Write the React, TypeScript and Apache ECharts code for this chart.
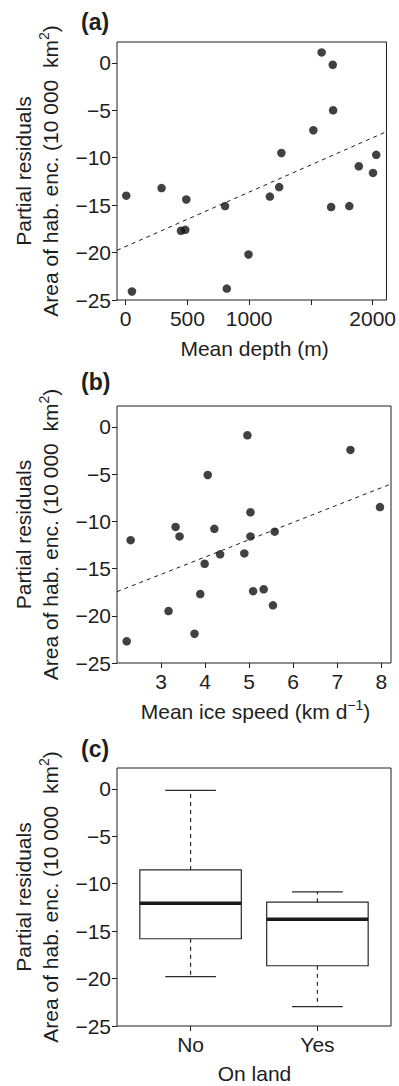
import React, { useEffect, useRef } from 'react';
import * as echarts from 'echarts';

// Panel (a): mean depth vs partial residuals
const depthX = [5, 51, 291, 448, 483, 491, 805, 819, 995, 1168, 1243, 1261, 1520, 1587, 1677, 1680, 1664, 1811, 1888, 2003, 2029];
const depthY = [-14.0, -24.1, -13.2, -17.7, -17.6, -14.4, -15.1, -23.8, -20.2, -14.1, -13.1, -9.5, -7.1, 1.1, -0.2, -5.0, -15.2, -15.1, -10.9, -11.6, -9.7];
const depthFitX = [-70, 2112];
const depthFitY = [-19.76, -7.25];

// Panel (b): mean ice speed vs partial residuals
const speedX = [2.22, 2.31, 3.17, 3.33, 3.42, 3.76, 3.89, 3.99, 4.06, 4.21, 4.34, 4.89, 4.96, 5.03, 5.03, 5.09, 5.33, 5.54, 5.58, 7.3, 7.97];
const speedY = [-22.7, -12.0, -19.5, -10.6, -11.6, -21.9, -17.7, -14.5, -5.1, -10.8, -13.5, -13.4, -0.9, -9.05, -11.6, -17.4, -17.2, -18.9, -11.1, -2.45, -8.5];
const speedFitX = [2.0, 8.22];
const speedFitY = [-17.45, -6.05];

// Panel (c): on land boxplot
const landCats = ['No', 'Yes'];
const boxLow = [-19.8, -22.95];
const boxQ1 = [-15.8, -18.65];
const boxMed = [-12.05, -13.75];
const boxQ3 = [-8.55, -11.95];
const boxHigh = [-0.15, -10.85];

const yTicks = [-25, -20, -15, -10, -5, 0];
const depthTicks = [0, 500, 1000, 1500, 2000];
const depthLabels = [0, 500, 1000, 2000];
const speedTicks = [3, 4, 5, 6, 7, 8];
const landTicks = [1, 2];

const FONT = 'Liberation Sans, Arial, sans-serif';
const INK = '#1e1e1e';
const FS = 21;

const grids = [
  { left: 117, top: 42, width: 273, height: 258 },
  { left: 117, top: 406, width: 274, height: 257 },
  { left: 117, top: 768, width: 274, height: 258 },
];

function yAxisFor(gi: number) {
  return {
    type: 'value',
    gridIndex: gi,
    min: -25,
    max: 2.2,
    splitLine: { show: false },
    axisLine: { show: false, onZero: false },
    axisTick: { show: true, length: 5, customValues: yTicks, lineStyle: { color: INK, width: 1 } },
    axisLabel: {
      customValues: yTicks,
      margin: 6,
      fontSize: FS,
      color: INK,
      fontFamily: FONT,
      formatter: (v: number) => String(v).replace('-', '\u2212'),
    },
  };
}

function xAxisFor(gi: number, min: number, max: number, ticks: number[], labels: number[], fmt?: (v: number) => string) {
  return {
    type: 'value',
    gridIndex: gi,
    position: 'bottom',
    min,
    max,
    splitLine: { show: false },
    axisLine: { show: false, onZero: false },
    axisTick: { show: true, length: 5, customValues: ticks, lineStyle: { color: INK, width: 1 } },
    axisLabel: {
      customValues: labels,
      margin: 8,
      fontSize: FS,
      color: INK,
      fontFamily: FONT,
      formatter: fmt || ((v: number) => String(v)),
    },
  };
}

export default function App() {
  const ref = useRef<HTMLDivElement>(null);

  useEffect(() => {
    if (!ref.current) return;
    const chart = echarts.init(ref.current, undefined, { renderer: 'svg' });

    const panelCenters = [171, 534.5, 897];
    const graphic: any[] = [];
    const labels = ['(a)', '(b)', '(c)'];
    const labelY = [22, 382, 749];
    labels.forEach((t, i) => {
      graphic.push({
        type: 'text',
        x: 81,
        y: labelY[i],
        style: { text: t, font: `bold 23px ${FONT}`, fill: INK, textAlign: 'left', textVerticalAlign: 'middle' },
      });
      graphic.push({
        type: 'text',
        x: 23.5,
        y: panelCenters[i],
        rotation: Math.PI / 2,
        style: { text: 'Partial residuals', font: `${FS}px ${FONT}`, fill: INK, textAlign: 'center', textVerticalAlign: 'middle' },
      });
      graphic.push({
        type: 'text',
        x: 48.5,
        y: panelCenters[i],
        rotation: Math.PI / 2,
        style: {
          text: '{n|Area of hab. enc. (10 000  km}{s|2}{n|)}',
          fill: INK,
          textAlign: 'center',
          textVerticalAlign: 'middle',
          rich: {
            n: { fontSize: FS, fontFamily: FONT, fill: INK, lineHeight: 24, verticalAlign: 'bottom' },
            s: { fontSize: 14, fontFamily: FONT, fill: INK, lineHeight: 24, verticalAlign: 'top' },
          },
        },
      });
    });
    const xTitleY = [348, 710, 1073];
    graphic.push({
      type: 'text',
      x: 254.5,
      y: xTitleY[0],
      style: { text: 'Mean depth (m)', font: `${FS}px ${FONT}`, fill: INK, textAlign: 'center', textVerticalAlign: 'middle' },
    });
    graphic.push({
      type: 'text',
      x: 255.5,
      y: xTitleY[1],
      style: {
        text: '{n|Mean ice speed (km d}{s|\u22121}{n|)}',
        fill: INK,
        textAlign: 'center',
        textVerticalAlign: 'middle',
        rich: {
          n: { fontSize: FS, fontFamily: FONT, fill: INK, lineHeight: 24, verticalAlign: 'bottom' },
          s: { fontSize: 14, fontFamily: FONT, fill: INK, lineHeight: 24, verticalAlign: 'top' },
        },
      },
    });
    graphic.push({
      type: 'text',
      x: 254.5,
      y: xTitleY[2],
      style: { text: 'On land', font: `${FS}px ${FONT}`, fill: INK, textAlign: 'center', textVerticalAlign: 'middle' },
    });

    const boxData = landCats.map((_, i) => [i + 1, boxLow[i], boxQ1[i], boxMed[i], boxQ3[i], boxHigh[i]]);

    chart.setOption({
      animation: false,
      backgroundColor: '#ffffff',
      grid: grids.map((g) => ({ ...g, show: true, borderColor: INK, borderWidth: 1, backgroundColor: 'transparent' })),
      xAxis: [
        xAxisFor(0, -70, 2112, depthTicks, depthLabels),
        xAxisFor(1, 2.0, 8.22, speedTicks, speedTicks),
        xAxisFor(2, 0.42, 2.58, landTicks, landTicks, (v: number) => landCats[Math.round(v) - 1] || ''),
      ],
      yAxis: [yAxisFor(0), yAxisFor(1), yAxisFor(2)],
      graphic,
      series: [
        {
          type: 'scatter',
          xAxisIndex: 0,
          yAxisIndex: 0,
          symbol: 'circle',
          symbolSize: 8.5,
          itemStyle: { color: '#111' },
          data: depthX.map((x, i) => [x, depthY[i]]),
          z: 3,
        },
        {
          type: 'line',
          xAxisIndex: 0,
          yAxisIndex: 0,
          showSymbol: false,
          symbol: 'none',
          lineStyle: { color: INK, width: 1, type: [4, 4] },
          data: depthFitX.map((x, i) => [x, depthFitY[i]]),
          z: 2,
        },
        {
          type: 'scatter',
          xAxisIndex: 1,
          yAxisIndex: 1,
          symbol: 'circle',
          symbolSize: 8.5,
          itemStyle: { color: '#111' },
          data: speedX.map((x, i) => [x, speedY[i]]),
          z: 3,
        },
        {
          type: 'line',
          xAxisIndex: 1,
          yAxisIndex: 1,
          showSymbol: false,
          symbol: 'none',
          lineStyle: { color: INK, width: 1, type: [4, 4] },
          data: speedFitX.map((x, i) => [x, speedFitY[i]]),
          z: 2,
        },
        {
          type: 'custom',
          xAxisIndex: 2,
          yAxisIndex: 2,
          encode: { x: 0, y: [1, 2, 3, 4, 5] },
          data: boxData,
          renderItem: (params: any, api: any) => {
            const x = api.value(0);
            const lo = api.coord([x, api.value(1)]);
            const q1 = api.coord([x, api.value(2)]);
            const md = api.coord([x, api.value(3)]);
            const q3 = api.coord([x, api.value(4)]);
            const hi = api.coord([x, api.value(5)]);
            const hw = api.coord([x + 0.4, 0])[0] - lo[0];
            const cw = hw / 2;
            const cx = lo[0];
            const stroke = { stroke: '#2a2a2a', lineWidth: 1.2 };
            return {
              type: 'group',
              children: [
                { type: 'line', shape: { x1: cx, y1: q3[1], x2: cx, y2: hi[1] }, style: { ...stroke, lineDash: [4, 4] } },
                { type: 'line', shape: { x1: cx, y1: q1[1], x2: cx, y2: lo[1] }, style: { ...stroke, lineDash: [4, 4] } },
                { type: 'line', shape: { x1: cx - cw, y1: hi[1], x2: cx + cw, y2: hi[1] }, style: stroke },
                { type: 'line', shape: { x1: cx - cw, y1: lo[1], x2: cx + cw, y2: lo[1] }, style: stroke },
                { type: 'rect', shape: { x: cx - hw, y: q3[1], width: 2 * hw, height: q1[1] - q3[1] }, style: { ...stroke, fill: '#fff' } },
                { type: 'line', shape: { x1: cx - hw, y1: md[1], x2: cx + hw, y2: md[1] }, style: { stroke: '#1a1a1a', lineWidth: 3.5 } },
              ],
            };
          },
        },
      ],
    });

    return () => chart.dispose();
  }, []);

  return (
    <div
      ref={ref}
      style={{ position: 'fixed', left: 0, top: 0, width: 399, height: 1086, background: '#fff' }}
    />
  );
}
